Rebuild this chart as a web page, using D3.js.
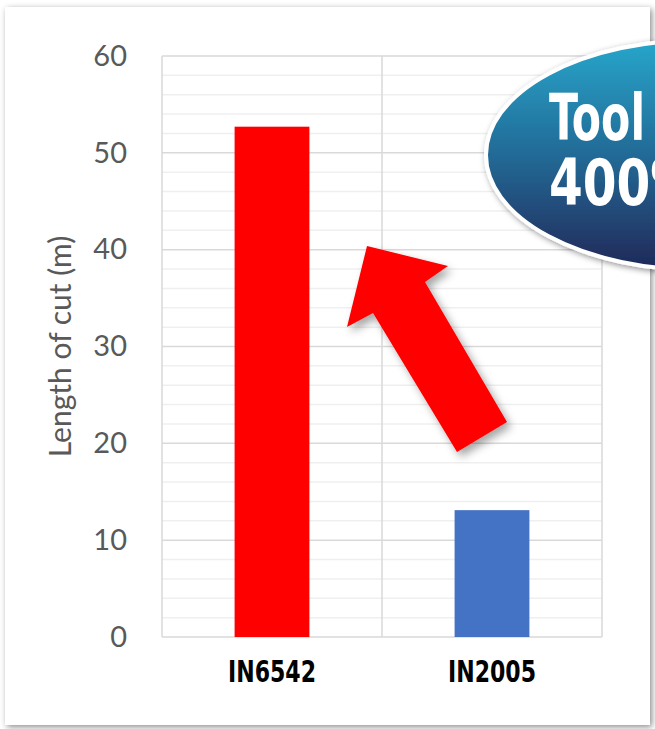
<!DOCTYPE html>
<html>
<head>
<meta charset="utf-8">
<script src="https://cdn.jsdelivr.net/npm/d3@7"></script>
<style>
  html, body { margin: 0; padding: 0; background: #fff; }
  svg { display: block; }
</style>
</head>
<body>
<div id="chart"></div>
<script>
// chart data
var categories = ["IN6542", "IN2005"];
var lengths = [52.7, 13.1];
var barColors = ["#ff0000", "#4472c4"];
var yTicks = [0, 10, 20, 30, 40, 50, 60];
var badgeLines = ["Tool", "400%"];

var W = 655, H = 729;
var plot = { left: 162, right: 602, top: 56, bottom: 637 };
var narrow = "'DejaVu Sans Condensed', 'DejaVu Sans', sans-serif";

var svg = d3.select("#chart").append("svg")
  .attr("width", W)
  .attr("height", H);

var defs = svg.append("defs");

// soft shadow for the panel and the badge
var sh = defs.append("filter").attr("id", "shadow")
  .attr("x", "-10%").attr("y", "-10%").attr("width", "120%").attr("height", "120%");
sh.append("feDropShadow").attr("dx", 2).attr("dy", 2).attr("stdDeviation", 3)
  .attr("flood-color", "#000").attr("flood-opacity", 0.45);

var sh2 = defs.append("filter").attr("id", "arrowShadow")
  .attr("x", "-20%").attr("y", "-20%").attr("width", "140%").attr("height", "140%");
sh2.append("feDropShadow").attr("dx", 4).attr("dy", 5).attr("stdDeviation", 4)
  .attr("flood-color", "#000").attr("flood-opacity", 0.35);

var grad = defs.append("linearGradient").attr("id", "badgeGrad")
  .attr("x1", 0).attr("y1", 0).attr("x2", 0).attr("y2", 1);
grad.append("stop").attr("offset", "0%").attr("stop-color", "#28a6cb");
grad.append("stop").attr("offset", "50%").attr("stop-color", "#226a96");
grad.append("stop").attr("offset", "100%").attr("stop-color", "#1f2858");

// background panel
svg.append("rect")
  .attr("x", 5).attr("y", 7)
  .attr("width", 645).attr("height", 718)
  .attr("fill", "#fff")
  .attr("filter", "url(#shadow)");

var x = d3.scaleBand()
  .domain(categories)
  .range([plot.left, plot.right])
  .paddingInner(0)
  .paddingOuter(0);

var y = d3.scaleLinear()
  .domain([0, 60])
  .range([plot.bottom, plot.top]);

// minor gridlines every 2
var minor = d3.range(2, 60, 2).filter(function(v) { return v % 10 !== 0; });
svg.append("g").selectAll("line").data(minor).enter().append("line")
  .attr("x1", plot.left).attr("x2", plot.right)
  .attr("y1", function(d) { return y(d); })
  .attr("y2", function(d) { return y(d); })
  .attr("stroke", "#efefef").attr("stroke-width", 1.5);

// major gridlines
svg.append("g").selectAll("line").data(yTicks).enter().append("line")
  .attr("x1", plot.left).attr("x2", plot.right)
  .attr("y1", function(d) { return y(d); })
  .attr("y2", function(d) { return y(d); })
  .attr("stroke", "#d9d9d9").attr("stroke-width", 1.5);

// category dividers
var dividers = [plot.left].concat(categories.map(function(c) { return x(c) + x.bandwidth(); }));
svg.append("g").selectAll("line").data(dividers).enter().append("line")
  .attr("x1", function(d) { return d; }).attr("x2", function(d) { return d; })
  .attr("y1", plot.top).attr("y2", plot.bottom)
  .attr("stroke", "#d9d9d9").attr("stroke-width", 1.5);

// bars
var barW = x.bandwidth() * 0.34;
svg.append("g").selectAll("rect").data(categories).enter().append("rect")
  .attr("x", function(d) { return x(d) + (x.bandwidth() - barW) / 2; })
  .attr("y", function(d, i) { return y(lengths[i]); })
  .attr("width", barW)
  .attr("height", function(d, i) { return y(0) - y(lengths[i]); })
  .attr("fill", function(d, i) { return barColors[i]; });

// y axis labels
var yAxis = svg.append("g")
  .attr("transform", "translate(" + (plot.left - 35) + ",0)")
  .call(d3.axisLeft(y).tickValues(yTicks).tickSize(0).tickPadding(0));
yAxis.select(".domain").remove();
yAxis.selectAll("text")
  .attr("font-family", "Lato, 'Open Sans', sans-serif")
  .attr("font-size", 29)
  .attr("fill", "#595959");

// x axis labels
var xAxis = svg.append("g")
  .attr("transform", "translate(0," + (plot.bottom + 45) + ")")
  .call(d3.axisBottom(x).tickSize(0).tickPadding(0));
xAxis.select(".domain").remove();
xAxis.selectAll("text")
  .attr("font-family", narrow)
  .attr("font-weight", "bold")
  .attr("font-size", 30)
  .attr("fill", "#000")
  .attr("dy", 0)
  .attr("textLength", 88)
  .attr("lengthAdjust", "spacingAndGlyphs");

// y title
svg.append("text")
  .attr("transform", "translate(71," + ((plot.top + plot.bottom) / 2) + ") rotate(-90)")
  .attr("text-anchor", "middle")
  .attr("font-family", "Lato, 'Open Sans', sans-serif")
  .attr("font-size", 30)
  .attr("fill", "#595959")
  .text("Length of cut (m)");

// annotation arrow pointing at the first bar
var arrowPts = [[367, 246], [448, 266], [425, 282], [507, 422], [457, 452], [373, 313], [347, 327]];
svg.append("path")
  .attr("d", d3.line()(arrowPts) + "Z")
  .attr("fill", "#ff0000")
  .attr("filter", "url(#arrowShadow)");

// badge (runs off the right edge, as in the original slide)
var badge = svg.append("g");
badge.append("ellipse")
  .attr("cx", 700).attr("cy", 155)
  .attr("rx", 214).attr("ry", 115)
  .attr("fill", "url(#badgeGrad)")
  .attr("stroke", "#fff").attr("stroke-width", 4)
  .attr("filter", "url(#shadow)");
var badgeWidths = [96, 150];
badge.selectAll("text").data(badgeLines).enter().append("text")
  .attr("x", 549)
  .attr("y", function(d, i) { return 140 + i * 65; })
  .attr("font-family", narrow)
  .attr("font-weight", "bold")
  .attr("font-size", 64)
  .attr("fill", "#fff")
  .attr("textLength", function(d, i) { return badgeWidths[i]; })
  .attr("lengthAdjust", "spacingAndGlyphs")
  .text(function(d) { return d; });
</script>
</body>
</html>
